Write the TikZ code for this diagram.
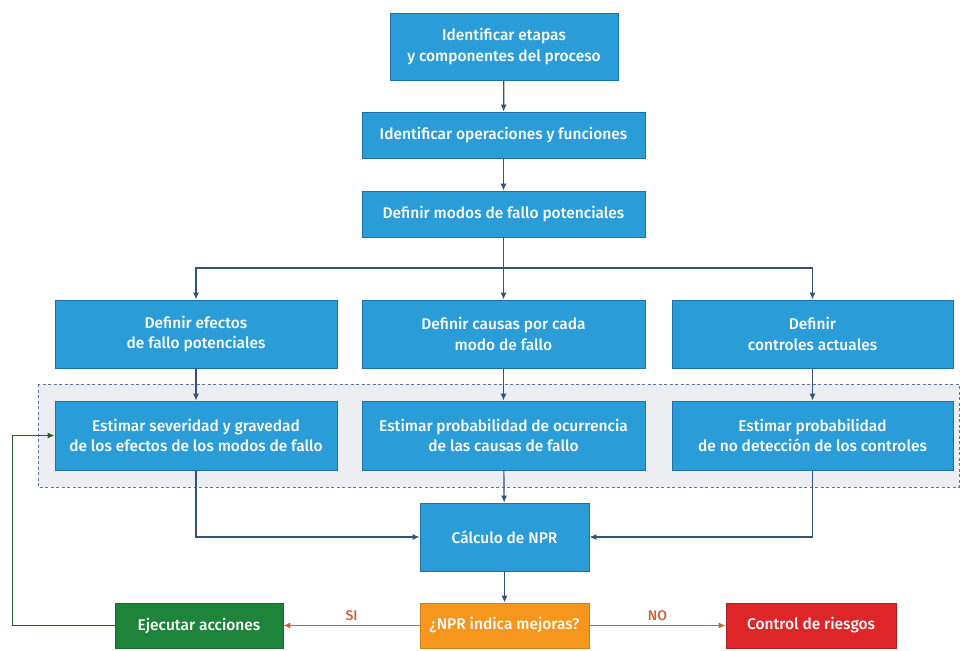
\documentclass[tikz,border=0pt]{standalone}
\usepackage{fontspec}
\setmainfont{Fira Sans}[UprightFont={* Medium}]
\usetikzlibrary{positioning,arrows.meta}

\definecolor{azulcaja}{RGB}{42,156,215}
\definecolor{bordecaja}{RGB}{28,112,172}
\definecolor{linea}{RGB}{52,82,122}
\definecolor{verdecaja}{RGB}{30,132,58}
\definecolor{verdelinea}{RGB}{42,92,52}
\definecolor{naranjacaja}{RGB}{246,150,28}
\definecolor{naranjalinea}{RGB}{206,96,56}
\definecolor{rojocaja}{RGB}{222,38,40}
\definecolor{fondozona}{RGB}{236,238,241}

\tikzset{
  caja/.style={draw=bordecaja, fill=azulcaja, text=white, align=center,
    inner sep=0pt, line width=0.8pt, font=\fontsize{15.5}{20.5}\selectfont},
  flecha/.style={-{Latex[length=7pt,width=6pt]}, line width=1.2pt, draw=linea},
  rotulo/.style={above=1pt, text=naranjalinea, font=\fontsize{14}{16}\selectfont},
}

\begin{document}
\begin{tikzpicture}[x=1pt,y=-1pt]
\useasboundingbox (0,0) rectangle (962,651);

\draw[fill=fondozona, draw=linea!80, dashed, line width=0.8pt,
  dash pattern=on 3pt off 2.5pt] (38,384) rectangle (959,487);

\node[caja, minimum width=228pt, minimum height=67pt] (etapas) at (504,46.5)
  {Identificar etapas\\y componentes del proceso};
\node[caja, minimum width=283pt, minimum height=46pt] (operaciones) at (503.5,135)
  {Identificar operaciones y funciones};
\node[caja, minimum width=283pt, minimum height=46pt] (modos) at (503.5,214)
  {Definir modos de fallo potenciales};

\node[caja, minimum width=282pt, minimum height=68pt] (efectos) at (196,334)
  {Definir efectos\\de fallo potenciales};
\node[caja, minimum width=283pt, minimum height=68pt] (causas) at (503.5,334)
  {Definir causas por cada\\modo de fallo};
\node[caja, minimum width=281pt, minimum height=68pt] (controles) at (812.5,334)
  {Definir\\controles actuales};

\node[caja, minimum width=282pt, minimum height=69pt] (severidad) at (196,435.5)
  {Estimar severidad y gravedad\\de los efectos de los modos de fallo};
\node[caja, minimum width=283pt, minimum height=69pt] (ocurrencia) at (503.5,435.5)
  {Estimar probabilidad de ocurrencia\\de las causas de fallo};
\node[caja, minimum width=281pt, minimum height=69pt] (deteccion) at (812.5,435.5)
  {Estimar probabilidad\\de no detección de los controles};

\node[caja, minimum width=169pt, minimum height=68pt] (npr) at (504.5,537)
  {Cálculo de NPR};

\node[caja, fill=naranjacaja, draw=naranjacaja!85!black, minimum width=169pt,
  minimum height=45pt] (mejoras) at (504.5,625.5) {¿NPR indica mejoras?};
\node[caja, fill=verdecaja, draw=verdecaja!80!black, minimum width=168pt,
  minimum height=45pt] (ejecutar) at (199,625.5) {Ejecutar acciones};
\node[caja, fill=rojocaja, draw=rojocaja!80!black, minimum width=170pt,
  minimum height=45pt] (riesgos) at (811,625.5) {Control de riesgos};

\foreach \x/\y in {etapas/operaciones,operaciones/modos,modos/causas,
  efectos/severidad,causas/ocurrencia,controles/deteccion,ocurrencia/npr,npr/mejoras}
	\draw[flecha](\x)--(\y);

\coordinate (rama) at (503.5,268);
\foreach \x in {efectos,controles}
	\draw[flecha](rama)-|(\x.north);

\draw[flecha](severidad.south)|-(npr.west);
\draw[flecha](deteccion.south)|-(npr.east);

\draw[flecha, draw=verdelinea](ejecutar.west)--++(-102,0)|-(severidad.west);

\draw[flecha, draw=naranjalinea](mejoras.west)--node[rotulo]{SI}(ejecutar.east);
\draw[flecha, draw=naranjalinea](mejoras.east)--node[rotulo]{NO}(riesgos.west);

\end{tikzpicture}
\end{document}
